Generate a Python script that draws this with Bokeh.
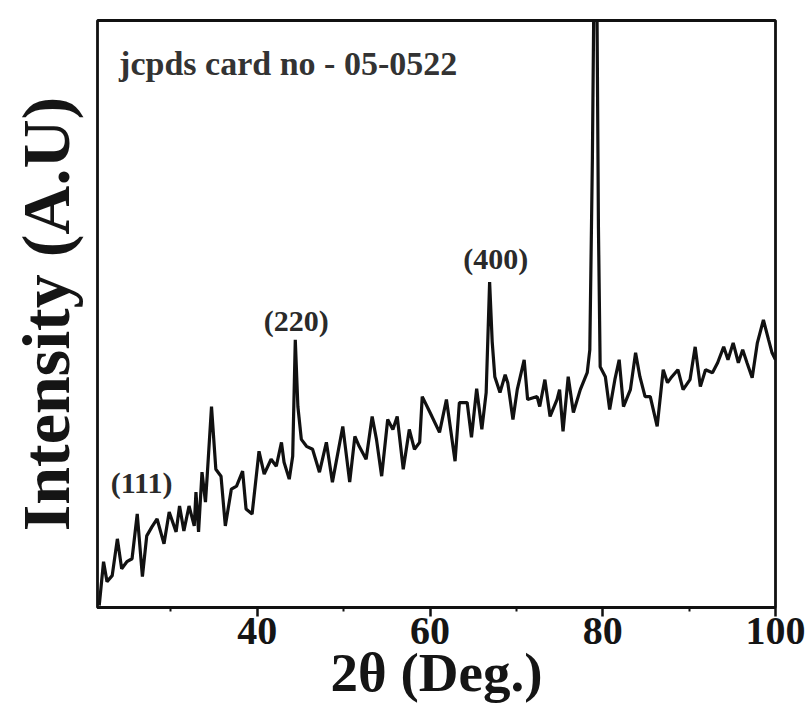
from bokeh.plotting import figure
from bokeh.models import Range1d, Label, FixedTicker
from bokeh.embed import file_html
from bokeh.resources import INLINE

# 2-theta (degrees) and intensity (a.u.)
two_theta = [
    21.7, 22.2, 22.6, 23.2, 23.8, 24.3, 24.9, 25.5, 26.1, 26.7, 27.2, 27.8, 28.4, 29.2, 29.8,
    30.6, 31.0, 31.5, 32.1, 32.7, 32.9, 33.2, 33.6, 34.0, 34.2, 34.7, 35.2, 35.8, 36.3, 37.0,
    37.6, 38.3, 38.7, 39.4, 40.2, 40.8, 41.6, 42.2, 42.8, 43.1, 43.7, 44.1, 44.4, 44.7, 45.1,
    45.7, 46.4, 47.2, 48.0, 48.7, 49.9, 50.7, 51.3, 51.8, 52.6, 53.3, 53.8, 54.4, 55.1, 55.7,
    56.2, 56.9, 57.6, 58.2, 58.8, 59.1, 60.0, 61.1, 61.9, 62.9, 63.4, 64.3, 64.8, 65.4, 66.0,
    66.5, 66.9, 67.2, 67.5, 68.1, 68.7, 69.0, 69.6, 70.1, 70.9, 71.3, 72.4, 72.7, 73.3, 73.9,
    74.7, 75.0, 75.4, 76.0, 76.6, 77.4, 78.2, 78.5, 78.8, 79.0, 79.3, 79.5, 79.7, 80.3, 80.8,
    81.4, 81.9, 82.4, 83.2, 83.8, 84.3, 84.9, 85.5, 86.3, 87.0, 87.5, 88.0, 88.7, 89.3, 90.1,
    90.7, 91.3, 91.9, 92.7, 93.3, 94.0, 94.5, 95.1, 95.7, 96.2, 96.7, 97.3, 97.9, 98.6, 99.2,
    99.6, 100.0,
]
intensity = [
    0, 44, 24, 30, 67, 37, 44, 47, 92, 29, 70, 79, 87, 62, 94,
    74, 100, 75, 100, 80, 114, 74, 134, 104, 130, 200, 137, 130, 80, 117,
    120, 135, 97, 92, 155, 132, 147, 140, 164, 144, 127, 150, 267, 200, 167,
    160, 157, 134, 164, 124, 180, 124, 170, 160, 147, 190, 167, 130, 187, 177,
    190, 137, 177, 157, 164, 210, 194, 174, 207, 145, 204, 204, 169, 218, 177,
    214, 325, 265, 230, 214, 232, 224, 187, 217, 247, 207, 210, 200, 227, 190,
    207, 217, 175, 230, 194, 217, 234, 257, 450, 640, 640, 380, 240, 230, 197,
    227, 247, 200, 217, 254, 230, 210, 210, 180, 237, 224, 230, 237, 217, 227,
    260, 220, 237, 234, 244, 260, 247, 264, 244, 257, 244, 229, 264, 287, 267,
    254, 247,
]
x_ticks = [40, 60, 80, 100]
x_minor_ticks = [30, 50, 70, 90]
peak_labels = ["(111)", "(220)", "(400)"]
peak_x = [26.6, 44.5, 67.6]
peak_y = [124, 286, 349]
card_text = "jcpds card no - 05-0522"

SERIF = "Liberation Serif"

p = figure(width=806, height=707, output_backend="svg", toolbar_location=None,
           x_range=Range1d(21.5, 100), y_range=Range1d(-2, 588),
           min_border_left=97, min_border_right=31, min_border_top=20, min_border_bottom=100)

p.line(two_theta, intensity, line_color="#111111", line_width=3.2)

p.grid.visible = False
p.outline_line_color = "#111111"
p.outline_line_width = 2.8

xa = p.xaxis[0]
xa.ticker = FixedTicker(ticks=x_ticks, minor_ticks=x_minor_ticks)
xa.axis_line_color = "#111111"
xa.axis_line_width = 2.8
xa.major_tick_line_color = "#111111"
xa.major_tick_line_width = 2.5
xa.major_tick_out = 9
xa.major_tick_in = 0
xa.minor_tick_line_color = "#111111"
xa.minor_tick_line_width = 2
xa.minor_tick_out = 4
xa.minor_tick_in = 0
xa.major_label_text_font = SERIF
xa.major_label_text_font_style = "bold"
xa.major_label_text_font_size = "40px"
xa.major_label_text_color = "#151515"
xa.major_label_standoff = 1
xa.axis_label = "2θ (Deg.)"
xa.axis_label_text_font = SERIF
xa.axis_label_text_font_style = "bold"
xa.axis_label_text_font_size = "55px"
xa.axis_label_text_color = "#151515"
xa.axis_label_standoff = -5

ya = p.yaxis[0]
ya.ticker = FixedTicker(ticks=[])
ya.axis_line_color = None
ya.major_tick_line_color = None
ya.minor_tick_line_color = None
ya.major_label_text_font_size = "0px"
ya.axis_label = "Intensity (A.U)"
ya.axis_label_text_font = SERIF
ya.axis_label_text_font_style = "bold"
ya.axis_label_text_font_size = "68px"
ya.axis_label_text_color = "#151515"
ya.axis_label_standoff = 14

p.add_layout(Label(x=24.0, y=545, text=card_text, text_font=SERIF, text_font_style="bold",
                   text_font_size="34px", text_color="#333333", text_baseline="alphabetic"))
for t, xx, yy in zip(peak_labels, peak_x, peak_y):
    p.add_layout(Label(x=xx, y=yy, text=t, text_font=SERIF, text_font_style="bold",
                       text_font_size="30px", text_color="#2a2a2a",
                       text_align="center", text_baseline="middle"))

open("out.html", "w").write(file_html(p, INLINE))
